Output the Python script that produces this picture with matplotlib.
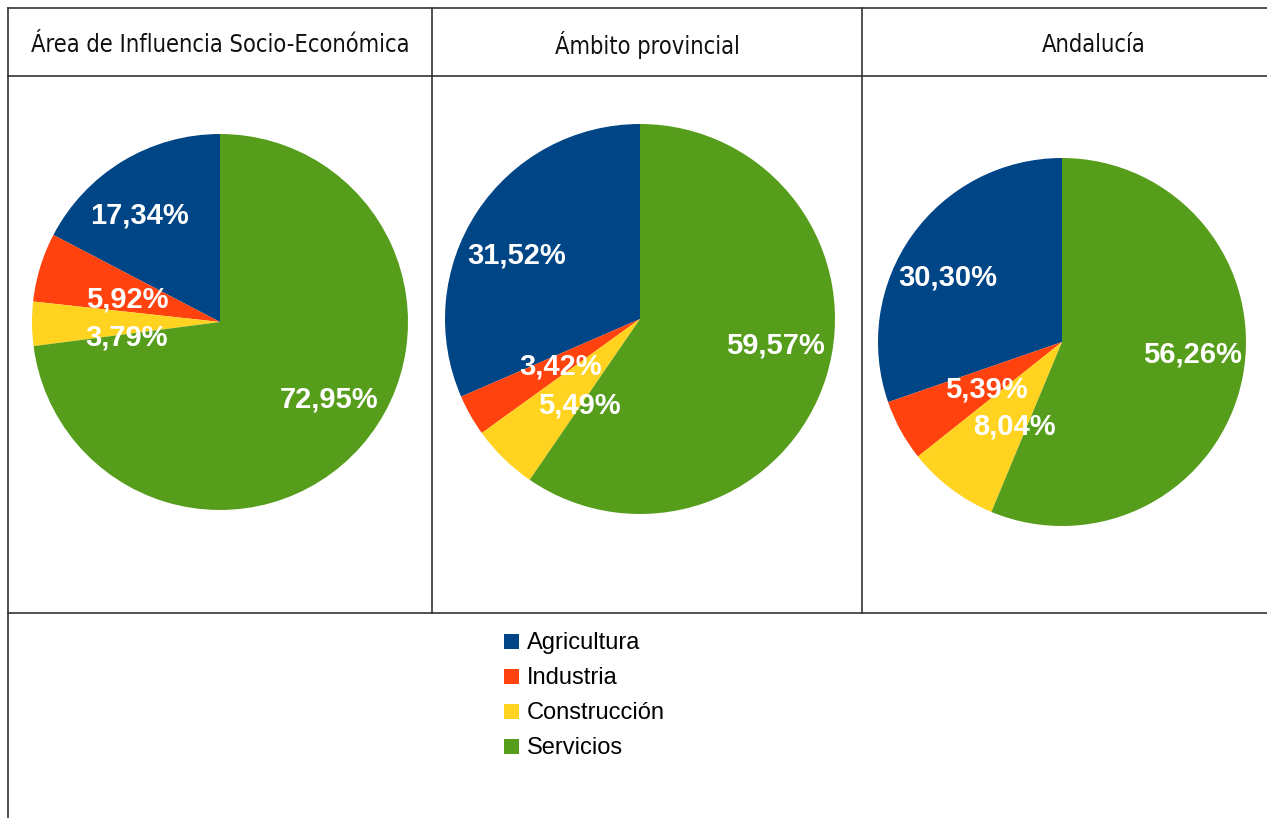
import matplotlib
matplotlib.use('Agg')
import matplotlib.pyplot as plt
from matplotlib.lines import Line2D
import numpy as np

categories = ['Agricultura', 'Industria', 'Construcción', 'Servicios']
colors = ['#004586', '#ff420e', '#ffd320', '#579d1c']
titles = ['Área de Influencia Socio-Económica', 'Ámbito provincial', 'Andalucía']
area_influencia = [17.34, 5.92, 3.79, 72.95]
ambito_provincial = [31.52, 3.42, 5.49, 59.57]
andalucia = [30.30, 5.39, 8.04, 56.26]
series = [area_influencia, ambito_provincial, andalucia]

W, H = 1267, 818
fig = plt.figure(figsize=(W / 100, H / 100), dpi=100)

# pixel helpers (y from top)
def fx(x):
    return x / W

def fy(y):
    return 1 - y / H

# table grid
line_kw = dict(color='#333333', linewidth=1.2, transform=fig.transFigure)
for y in [8, 76, 613]:
    fig.add_artist(Line2D([fx(8), 1], [fy(y), fy(y)], **line_kw))
fig.add_artist(Line2D([fx(8), fx(8)], [fy(8), 0], **line_kw))
for x in [432, 862]:
    fig.add_artist(Line2D([fx(x), fx(x)], [fy(8), fy(613)], **line_kw))

# header text
head_font = ['Liberation Sans Narrow', 'DejaVu Sans']
for title, cx in zip(titles, [220, 647, 1094]):
    fig.text(fx(cx), fy(45), title, ha='center', va='center', fontsize=17,
             family=head_font, color='#111111', fontstretch='condensed')

# pie boxes: center x, center y, radius (pixels)
boxes = [(220, 322, 188), (640, 319, 195), (1062, 342, 184)]

wedges0 = None
for vals, (cx, cy, r) in zip(series, boxes):
    ax = fig.add_axes([fx(cx - r), fy(cy + r), 2 * r / W, 2 * r / H])
    wedges, _ = ax.pie(vals, colors=colors, startangle=90, counterclock=True,
                       radius=1, wedgeprops=dict(linewidth=0))
    ax.set_xlim(-1, 1)
    ax.set_ylim(-1, 1)
    ax.set_aspect('equal')
    ax.axis('off')

    # label positions, small slices closer to the centre
    pos = []
    for w, v in zip(wedges, vals):
        mid = np.deg2rad((w.theta1 + w.theta2) / 2 + 6)
        d = 0.71 if v > 10 else 0.5
        pos.append([d * np.cos(mid), d * np.sin(mid)])
    # keep neighbouring small labels apart
    for i in range(len(vals) - 1):
        if vals[i] < 10 and vals[i + 1] < 10:
            dy = pos[i][1] - pos[i + 1][1]
            if dy < 0.2:
                shift = (0.2 - dy) / 2
                pos[i][1] += shift
                pos[i + 1][1] -= shift
    for (px, py), v in zip(pos, vals):
        ax.text(px, py, f'{v:.2f}%'.replace('.', ','),
                ha='center', va='center', color='white', fontsize=21,
                fontweight='bold', family='Liberation Sans')
    if wedges0 is None:
        wedges0 = wedges

fig.legend(wedges0, categories, loc='upper left',
           bbox_to_anchor=(fx(495), fy(623)), frameon=False,
           prop=dict(family='Liberation Sans', size=17),
           handlelength=0.6, handleheight=0.6, handletextpad=0.35,
           labelspacing=0.55, borderaxespad=0)

fig.savefig('out.png', dpi=100, facecolor='white')
